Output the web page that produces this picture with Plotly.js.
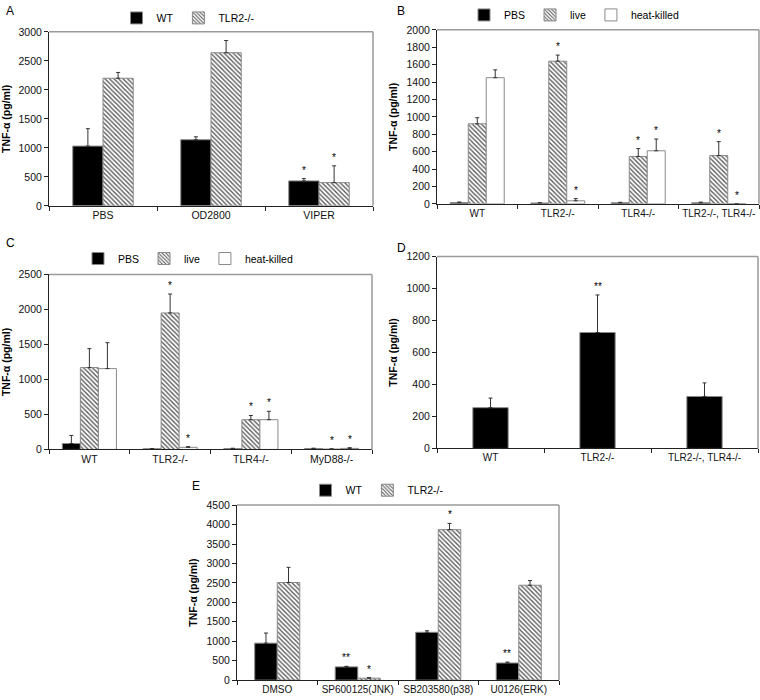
<!DOCTYPE html>
<html>
<head>
<meta charset="utf-8">
<script src="https://cdn.plot.ly/plotly-3.0.1.min.js"></script>
<style>body{margin:0;background:#fff}#chart{width:760px;height:700px}</style>
</head>
<body>
<div id="chart"></div>
<script>
// ---------- DATA ----------
// Panel A
const aCats = ["PBS", "OD2800", "VIPER"];
const aWT = [1030, 1140, 430];
const aWTerr = [300, 50, 40];
const aWTsig = ["", "", "*"];
const aKO = [2200, 2640, 400];
const aKOerr = [100, 210, 290];
const aKOsig = ["", "", "*"];

// Panel B
const bCats = ["WT", "TLR2-/-", "TLR4-/-", "TLR2-/-, TLR4-/-"];
const bPBS = [15, 10, 12, 12];
const bPBSerr = [6, 3, 6, 8];
const bPBSsig = ["", "", "", ""];
const bLive = [920, 1640, 545, 555];
const bLiveErr = [70, 70, 90, 160];
const bLiveSig = ["", "*", "*", "*"];
const bHK = [1450, 35, 610, 0];
const bHKerr = [90, 25, 135, 0];
const bHKsig = ["", "*", "*", "*"];

// Panel C
const cCats = ["WT", "TLR2-/-", "TLR4-/-", "MyD88-/-"];
const cPBS = [85, 10, 12, 12];
const cPBSerr = [115, 3, 5, 6];
const cPBSsig = ["", "", "", ""];
const cLive = [1170, 1950, 425, 5];
const cLiveErr = [270, 270, 60, 3];
const cLiveSig = ["", "*", "*", "*"];
const cHK = [1155, 30, 425, 15];
const cHKerr = [370, 10, 120, 10];
const cHKsig = ["", "*", "*", "*"];

// Panel D
const dCats = ["WT", "TLR2-/-", "TLR2-/-, TLR4-/-"];
const dVal = [255, 725, 325];
const dErr = [60, 235, 85];
const dSig = ["", "**", ""];

// Panel E
const eCats = ["DMSO", "SP600125(JNK)", "SB203580(p38)", "U0126(ERK)"];
const eWT = [950, 340, 1230, 440];
const eWTerr = [260, 15, 40, 25];
const eWTsig = ["", "**", "", "**"];
const eKO = [2510, 50, 3870, 2440];
const eKOerr = [390, 15, 160, 120];
const eKOsig = ["", "*", "*", ""];

// ---------- STYLE ----------
const FONT = "Liberation Sans, Arial, sans-serif";
const W = 760, H = 700;
const GRAY = "#8a8a8a";
const styles = {
  black: {color: "#000", line: {color: GRAY, width: 1}},
  hatch: {color: "#fff", line: {color: GRAY, width: 1},
          pattern: {shape: "\\", fgcolor: "#555", bgcolor: "#fff", size: 3.2, solidity: 0.4}},
  white: {color: "#fff", line: {color: GRAY, width: 1}}
};

const traces = [];
const annotations = [];
const shapes = [];
const layout = {
  width: W, height: H,
  margin: {l: 0, r: 0, t: 0, b: 0},
  paper_bgcolor: "#fff", plot_bgcolor: "#fff",
  font: {family: FONT, size: 10, color: "#222"},
  barmode: "overlay",
  annotations: annotations,
  shapes: shapes
};

function px2x(p) { return p / W; }
function px2y(p) { return 1 - p / H; }

function panel(idx, box, cats, series, gap, yrange, dtick, letter, letterPos, legendName, legendPos, xfs) {
  const sfx = idx === 1 ? "" : String(idx);
  const xa = "xaxis" + sfx, ya = "yaxis" + sfx;
  const xr = "x" + sfx, yr = "y" + sfx;
  const n = series.length;
  const w = (1 - gap) / n;
  series.forEach((s, i) => {
    const off = -(1 - gap) / 2 + i * w;
    traces.push({
      type: "bar", x: cats, y: s.y, name: s.name,
      xaxis: xr, yaxis: yr,
      width: w, offset: off,
      marker: styles[s.style],
      error_y: {type: "data", symmetric: false, array: s.err, arrayminus: s.y.map(() => 0),
                color: "#333", thickness: 1, width: 2},
      showlegend: !!legendName,
      legend: legendName || "legend",
      hoverinfo: "skip"
    });
    s.sig.forEach((t, k) => {
      if (!t) return;
      annotations.push({
        xref: xr, yref: yr, x: k + off + w / 2, y: s.y[k] + s.err[k],
        text: t, showarrow: false, yanchor: "bottom", yshift: 1,
        font: {family: FONT, size: 10, color: "black"}
      });
    });
  });
  layout[xa] = {
    domain: [px2x(box[0]), px2x(box[1])], anchor: yr,
    type: "category", range: [-0.5, cats.length - 0.5],
    showline: true, linecolor: "#222", linewidth: 1,
    ticks: "outside", tickson: "boundaries", ticklen: 4, tickcolor: "#222",
    tickangle: 0, automargin: false,
    showgrid: false, zeroline: false, fixedrange: true,
    tickfont: {family: FONT, size: xfs, color: "#111"}
  };
  layout[ya] = {
    domain: [px2y(box[3]), px2y(box[2])], anchor: xr,
    range: yrange, dtick: dtick, tick0: 0,
    showline: true, linecolor: "#222", linewidth: 1,
    ticks: "outside", ticklen: 4, tickcolor: "#222",
    showgrid: false, zeroline: false, fixedrange: true, automargin: false,
    tickfont: {family: FONT, size: 10.5, color: "#111"},
    title: {text: "TNF-\u03b1 (pg/ml)", font: {family: FONT, size: 10.5, weight: "bold", color: "#000"}, standoff: 6}
  };
  shapes.push({type: "line", xref: xr + " domain", yref: yr + " domain", x0: 0, x1: 1, y0: 1, y1: 1,
               line: {color: "#9a9a9a", width: 1.5}});
  shapes.push({type: "line", xref: xr + " domain", yref: yr + " domain", x0: 1, x1: 1, y0: 0, y1: 1,
               line: {color: "#9a9a9a", width: 1.5}});
  annotations.push({xref: "paper", yref: "paper", x: px2x(letterPos[0]), y: px2y(letterPos[1]),
                    xanchor: "left", yanchor: "middle", text: letter, showarrow: false,
                    font: {family: FONT, size: 12, color: "#000"}});
  if (legendName) {
    layout[legendName] = {
      orientation: "h", x: px2x(legendPos[0]), y: px2y(legendPos[1]),
      xanchor: "center", yanchor: "middle", itemwidth: 30,
      bgcolor: "rgba(0,0,0,0)", font: {family: FONT, size: 10.5, color: "#000"},
      itemclick: false, itemdoubleclick: false
    };
  }
}

panel(1, [49, 373, 28, 203], aCats, [
  {name: "WT", y: aWT, err: aWTerr, sig: aWTsig, style: "black"},
  {name: "TLR2-/-", y: aKO, err: aKOerr, sig: aKOsig, style: "hatch"}
], 0.44, [0, 3000], 500, "A", [4, 7], "legend", [188, 14], 10.5);

panel(2, [437, 759, 26, 201], bCats, [
  {name: "PBS", y: bPBS, err: bPBSerr, sig: bPBSsig, style: "black"},
  {name: "live", y: bLive, err: bLiveErr, sig: bLiveSig, style: "hatch"},
  {name: "heat-killed", y: bHK, err: bHKerr, sig: bHKsig, style: "white"}
], 0.33, [0, 2000], 200, "B", [395, 7], "legend2", [574, 11], 10);

panel(3, [49, 372, 272, 448], cCats, [
  {name: "PBS", y: cPBS, err: cPBSerr, sig: cPBSsig, style: "black"},
  {name: "live", y: cLive, err: cLiveErr, sig: cLiveSig, style: "hatch"},
  {name: "heat-killed", y: cHK, err: cHKerr, sig: cHKsig, style: "white"}
], 0.33, [0, 2500], 500, "C", [4, 240], "legend3", [188, 256], 10.5);

panel(4, [437, 758, 254, 447], dCats, [
  {name: "TNF", y: dVal, err: dErr, sig: dSig, style: "black"}
], 0.67, [0, 1200], 200, "D", [395, 245], null, null, 10);

panel(5, [237, 559, 504, 680], eCats, [
  {name: "WT", y: eWT, err: eWTerr, sig: eWTsig, style: "black"},
  {name: "TLR2-/-", y: eKO, err: eKOerr, sig: eKOsig, style: "hatch"}
], 0.44, [0, 4500], 500, "E", [190, 485], "legend4", [377, 489], 10);

Plotly.newPlot("chart", traces, layout, {displayModeBar: false, staticPlot: true});
</script>
</body>
</html>
